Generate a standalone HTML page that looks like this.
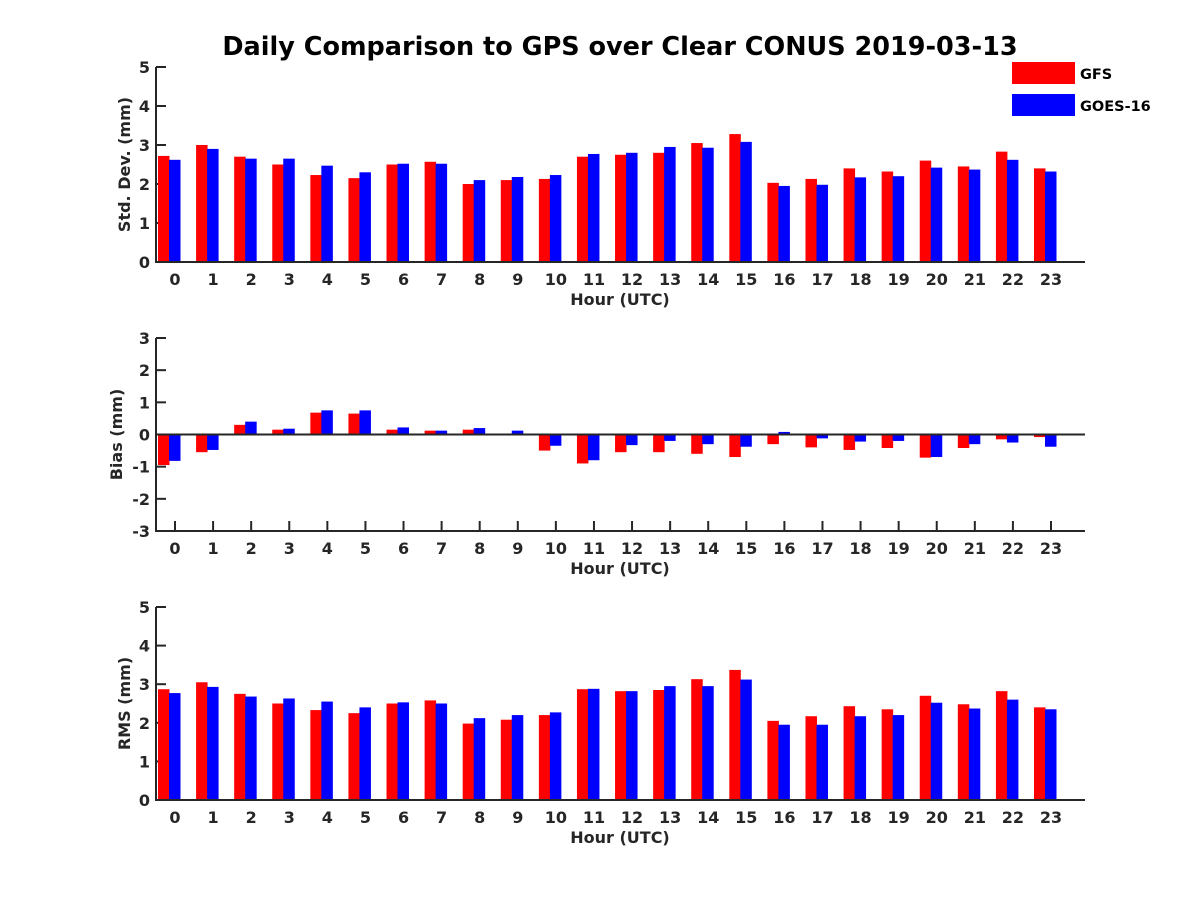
<!DOCTYPE html>
<html><head><meta charset="utf-8"><style>
body{margin:0;background:#fff}
svg text{font-family:"DejaVu Sans","Liberation Sans",sans-serif;font-weight:bold;fill:#262626}
</style></head><body>
<svg id="c" width="1200" height="900" xmlns="http://www.w3.org/2000/svg"></svg>
<script>
const hours=[0,1,2,3,4,5,6,7,8,9,10,11,12,13,14,15,16,17,18,19,20,21,22,23];
const stdGFS=[2.72,3.0,2.7,2.5,2.23,2.15,2.5,2.57,2.0,2.1,2.13,2.7,2.75,2.8,3.05,3.28,2.03,2.13,2.4,2.32,2.6,2.45,2.83,2.4];
const stdGOES=[2.62,2.9,2.65,2.65,2.47,2.3,2.52,2.52,2.1,2.18,2.23,2.77,2.8,2.95,2.93,3.08,1.95,1.98,2.17,2.2,2.42,2.37,2.62,2.32];
const biasGFS=[-0.95,-0.55,0.3,0.15,0.68,0.65,0.15,0.12,0.15,0.0,-0.5,-0.9,-0.55,-0.55,-0.6,-0.7,-0.3,-0.4,-0.48,-0.42,-0.72,-0.42,-0.15,-0.08];
const biasGOES=[-0.82,-0.48,0.4,0.18,0.75,0.75,0.22,0.12,0.2,0.12,-0.35,-0.8,-0.33,-0.2,-0.3,-0.38,0.08,-0.12,-0.22,-0.2,-0.7,-0.3,-0.25,-0.38];
const rmsGFS=[2.87,3.05,2.75,2.5,2.33,2.25,2.5,2.58,1.98,2.08,2.2,2.87,2.82,2.85,3.13,3.37,2.05,2.17,2.43,2.35,2.7,2.48,2.82,2.4];
const rmsGOES=[2.77,2.93,2.68,2.63,2.55,2.4,2.53,2.5,2.12,2.2,2.27,2.88,2.82,2.95,2.95,3.12,1.95,1.95,2.17,2.2,2.52,2.37,2.6,2.35];
const stdTicks=[0,1,2,3,4,5];
const biasTicks=[-3,-2,-1,0,1,2,3];
const rmsTicks=[0,1,2,3,4,5];

const NS="http://www.w3.org/2000/svg";
const svg=document.getElementById('c');
function mk(tag,at,parent){const e=document.createElementNS(NS,tag);for(const k in at)e.setAttribute(k,at[k]);(parent||svg).appendChild(e);return e;}
const X0=156,X1=1085;
function xs(h){return 175+h*(876/23);}

function panel(name,top,bot,ymin,ymax,ticks,gfs,goes,ylabel,lx){
  const g=mk('g',{});
  
  
  const ys=v=>bot-(v-ymin)/(ymax-ymin)*(bot-top);
  const base=ys(Math.max(0,ymin));
  ticks.forEach(t=>{
    const y=ys(t);
    mk('line',{x1:X0,x2:X0+10,y1:y,y2:y,stroke:'#262626','stroke-width':2},g);
    const tx=mk('text',{x:150,y:y+6,'text-anchor':'end','font-size':16},g);tx.textContent=t;
    
  });
  hours.forEach(h=>{
    const x=xs(h);
    mk('line',{x1:x,x2:x,y1:bot,y2:bot-10,stroke:'#262626','stroke-width':2},g);
    const tx=mk('text',{x:x,y:bot+23,'text-anchor':'middle','font-size':16},g);tx.textContent=h;
    
  });
  hours.forEach((h,i)=>{
    const cx=xs(h);
    [[gfs[i],'#ff0000',cx-17,'gfs'],[goes[i],'#0000ff',cx-6,'goes16']].forEach(([v,col,x,s])=>{
      const y1=ys(v),y=Math.min(y1,base),hh=Math.abs(y1-base);
      const r=mk('rect',{x:x,y:y,width:11.5,height:hh,fill:col},g);
      
      
    });
  });
  if(ymin<0){const z=mk('line',{x1:X0,x2:X1,y1:ys(0),y2:ys(0),stroke:'#262626','stroke-width':2},g);
    }
  const ax=mk('path',{d:`M${X0},${top} V${bot} H${X1}`,fill:'none',stroke:'#262626','stroke-width':2},g);
  
  const xl=mk('text',{x:620,y:bot+43,'text-anchor':'middle','font-size':16},g);xl.textContent='Hour (UTC)';
  
  const cy=(top+bot)/2;
  const yl=mk('text',{x:lx,y:cy,'text-anchor':'middle','font-size':16,transform:`rotate(-90 ${lx} ${cy})`},g);yl.textContent=ylabel;
  
}
panel('std-dev',67,262,0,5,stdTicks,stdGFS,stdGOES,'Std. Dev. (mm)',130);
panel('bias',338,531,-3,3,biasTicks,biasGFS,biasGOES,'Bias (mm)',122);
panel('rms',607,800,0,5,rmsTicks,rmsGFS,rmsGOES,'RMS (mm)',130);

const t=mk('text',{x:620,y:55,'text-anchor':'middle','font-size':25.5,style:'fill:#000'});
t.textContent='Daily Comparison to GPS over Clear CONUS 2019-03-13';


[['GFS','#ff0000',62],['GOES-16','#0000ff',94]].forEach(([lab,col,y])=>{
  const g=mk('g',{});
  
  
  mk('rect',{x:1012,y:y,width:63,height:22,fill:col},g);
  const tx=mk('text',{x:1080,y:y+17,'font-size':14.5,style:'fill:#000'},g);tx.textContent=lab;
});
</script>
</body></html>
